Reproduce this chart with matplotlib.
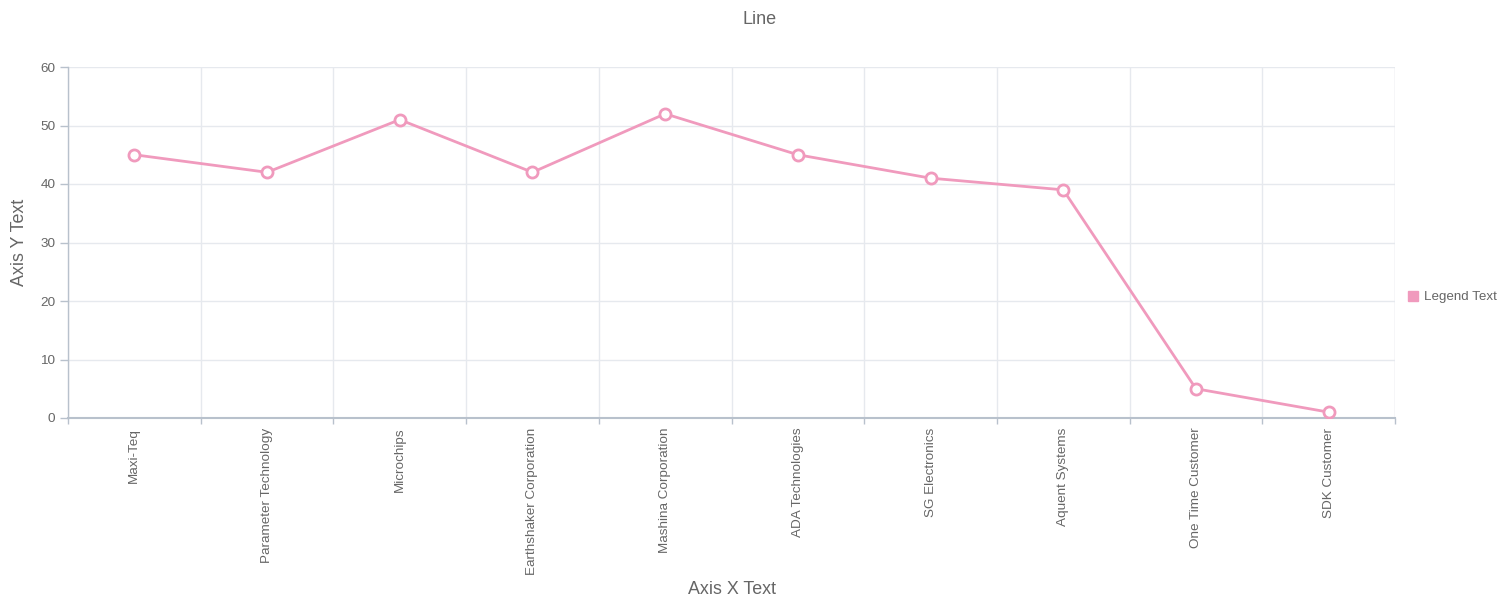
import matplotlib
matplotlib.use("Agg")
import matplotlib.pyplot as plt
from matplotlib.lines import Line2D
import numpy as np

categories = ["Maxi-Teq", "Parameter Technology", "Microchips", "Earthshaker Corporation",
              "Mashina Corporation", "ADA Technologies", "SG Electronics", "Aquent Systems",
              "One Time Customer", "SDK Customer"]
values = [45, 42, 51, 42, 52, 45, 41, 39, 5, 1]
y_ticks = [0, 10, 20, 30, 40, 50, 60]

PINK = '#f09abd'
TEXT = '#666666'
GRID = '#e6e9ee'
AXIS = '#b8c1cc'

plt.rcParams['font.family'] = ['Liberation Sans', 'DejaVu Sans']

fig = plt.figure(figsize=(15.11, 6.11), dpi=100)
ax = fig.add_axes([68/1511, 1-418/611, (1395-68)/1511, (418-67)/611])

x = np.arange(len(categories))
ax.plot(x, values, color=PINK, lw=2, marker='o', ms=8, mfc='white', mec=PINK, mew=2, zorder=3)

ax.set_xlim(-0.5, len(categories) - 0.5)
ax.set_ylim(0, 60)
ax.set_yticks(y_ticks)
ax.set_xticks(x)
ax.set_xticklabels(categories, rotation=90, va='top', ha='center')
ax.set_xticks(np.arange(-0.5, len(categories)), minor=True)

# grid: horizontal at y ticks, vertical at band edges
ax.grid(axis='y', which='major', color=GRID, lw=1)
ax.grid(axis='x', which='minor', color=GRID, lw=1)
ax.set_axisbelow(True)

ax.tick_params(axis='x', which='major', length=0, pad=7, labelsize=9.7, labelcolor=TEXT)
ax.tick_params(axis='x', which='minor', length=4, color=AXIS, width=1)
ax.tick_params(axis='y', length=6, color=AXIS, width=1, labelsize=9.7, labelcolor=TEXT, pad=3)

for s in ['top', 'right']:
    ax.spines[s].set_visible(False)
ax.spines['left'].set_color(AXIS)
ax.spines['bottom'].set_color(AXIS)
ax.spines['left'].set_linewidth(1)
ax.spines['bottom'].set_linewidth(1.5)
# right border line of plot area
ax.axvline(len(categories) - 0.5, color=GRID, lw=1)

fig.text(760/1511, 1-19/611, "Line", ha='center', va='center', fontsize=13, color=TEXT)
fig.text(732/1511, 1-590/611, "Axis X Text", ha='center', va='center', fontsize=12.9, color=TEXT)
fig.text(20/1511, 1-242/611, "Axis Y Text", ha='center', va='center', rotation=90, fontsize=12.9, color=TEXT)

handle = Line2D([], [], ls='none', marker='s', ms=7.5, mfc=PINK, mec=PINK)
fig.legend([handle], ["Legend Text"], loc='center left', bbox_to_anchor=(1401/1511, 1-297/611),
           frameon=False, fontsize=9.6, labelcolor=TEXT, handletextpad=0.3, borderaxespad=0,
           handlelength=1)

fig.savefig("out.png", dpi=100)
